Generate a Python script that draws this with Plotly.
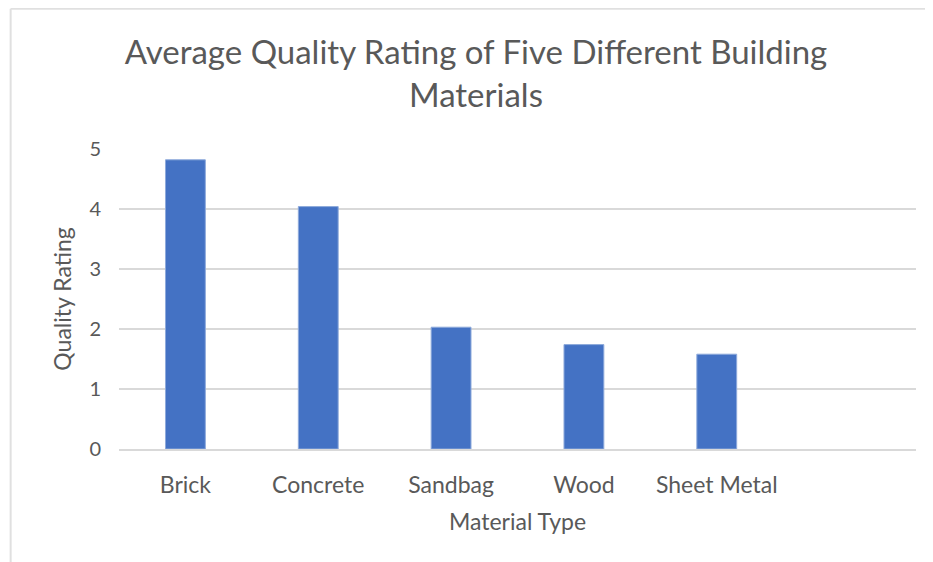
import plotly.graph_objects as go

categories = ["Brick", "Concrete", "Sandbag", "Wood", "Sheet Metal"]
ratings = [4.82, 4.04, 2.03, 1.74, 1.58]
y_ticks = [0, 1, 2, 3, 4, 5]

FONT = "Lato"
TXT = "#595959"

# page has an 8px body margin, so the figure is sized/offset to compensate
W, H = 925, 554
L, R, T, B = 110.5, 16.5, 141.3, 112.7
PW, PH = W - L - R, H - T - B

fig = go.Figure()
fig.add_trace(go.Bar(
    x=categories, y=ratings,
    marker=dict(color="#4472C4", line=dict(color="#8eaadb", width=1)),
    width=0.3,
))

bx = (2 - L) / PW
ty = 1 + (T - 1) / PH

fig.update_layout(
    width=W, height=H,
    paper_bgcolor="white", plot_bgcolor="white",
    margin=dict(l=L, r=R, t=T, b=B, pad=0),
    showlegend=False,
    font=dict(family=FONT, color=TXT),
    title=dict(
        text="Average Quality Rating of Five Different Building<br>Materials",
        font=dict(family=FONT, size=33, color=TXT),
        x=468 / W, xanchor="center", xref="container",
        y=1 - 56 / H, yanchor="middle", yref="container",
    ),
    xaxis=dict(
        type="category",
        categoryorder="array", categoryarray=categories + [" "],
        range=[-0.5, 5.5],
        showgrid=False, showline=True, linecolor="#d9d9d9", linewidth=1.5,
        ticks="", tickfont=dict(size=23, color=TXT),
        ticklabelstandoff=15,
        title=dict(text="Material Type", font=dict(size=23, color=TXT), standoff=17),
    ),
    yaxis=dict(
        range=[0, 5], tickvals=y_ticks,
        showgrid=True, gridcolor="#d9d9d9", gridwidth=1.5,
        zeroline=False, showline=False, ticks="",
        tickfont=dict(size=20, color=TXT),
        ticklabelstandoff=17,
        title=dict(text="Quality Rating", font=dict(size=23, color=TXT), standoff=11),
    ),
    shapes=[
        dict(type="line", xref="paper", yref="paper", x0=bx, x1=1.2, y0=ty, y1=ty,
             line=dict(color="#e0e0e0", width=2)),
        dict(type="line", xref="paper", yref="paper", x0=bx, x1=bx, y0=-0.6, y1=ty,
             line=dict(color="#e0e0e0", width=2)),
    ],
)

fig.write_html("out.html")
